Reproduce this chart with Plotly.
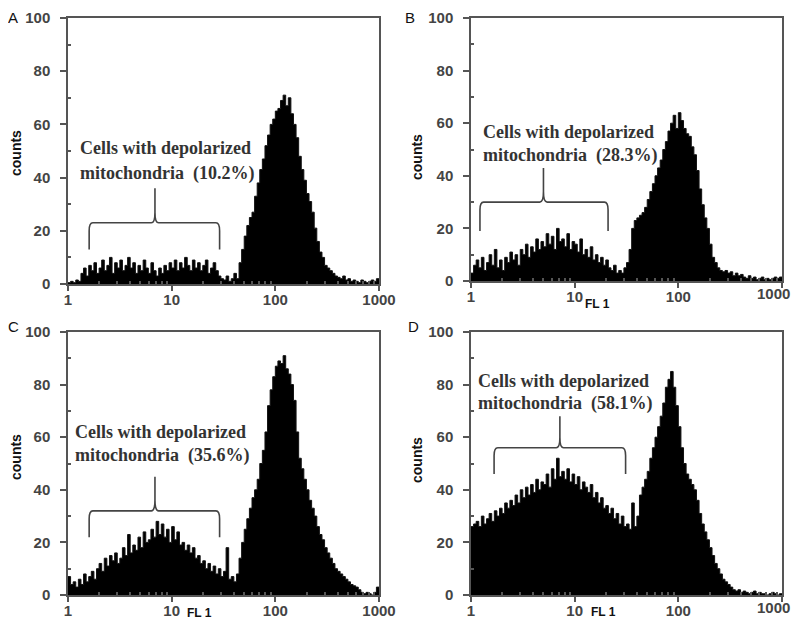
import numpy as np
import plotly.graph_objects as go

# FL1 channel edges (log scale, 1 .. 1000), 40 channels per decade
fl1_edges = np.logspace(0, 3, 121)

counts_A = [0.5, 1, 0.5, 1.5, 1,
            4, 6, 3, 7, 5, 8, 4,
            6, 9, 5, 7, 10, 4, 8, 6,
            9, 5, 7, 10, 6, 8, 4, 7,
            5, 9, 6, 4, 8, 5, 3, 6,
            4, 7, 5, 8, 6, 9, 5, 8,
            6, 10, 7, 5, 9, 6, 8, 5,
            7, 9, 4, 6, 8, 5, 3, 2,
            1.5, 3, 1, 2, 4, 2,
            8, 13, 18, 22, 25, 27, 33, 38,
            43, 47, 52, 56, 60, 62, 65, 66,
            69, 71, 67, 70, 64, 60, 55, 48,
            43, 39, 34, 31, 27, 21, 16, 12,
            10, 7, 6, 5, 4, 3, 2.5, 2,
            3, 1.5, 2, 1, 1.5, 1, 0.5, 1.5,
            1, 0.5, 1, 1.5, 1, 2]

counts_B = [3, 6, 8, 5, 9,
            4, 7, 10, 6, 12, 5, 8,
            4, 9, 7, 11, 8, 10, 6, 12,
            10, 14, 9, 13, 11, 16, 12, 15,
            13, 18, 14, 17, 12, 20, 15, 16,
            13, 18, 12, 15, 14, 11, 16, 10,
            12, 9, 13, 8, 10, 7, 9, 6,
            8, 5, 4, 6, 3, 4, 3, 5,
            7, 12, 20, 23, 24, 25,
            26, 28, 31, 34, 37, 40, 43, 46,
            50, 53, 57, 60, 63, 58, 64, 61,
            58, 56, 55, 51, 48, 42, 35, 29,
            24, 20, 14, 9, 7, 5, 4, 3.5,
            4, 3, 3.5, 2, 3, 2, 2.5, 1.5,
            1, 2, 1, 1.5, 0.5, 1, 1.5, 0.5,
            1, 0.5, 1, 1.5, 1, 1.5]

counts_C = [7, 4, 5, 3, 6,
            4, 8, 5, 7, 9, 6, 10,
            12, 9, 14, 11, 15, 13, 16, 12,
            14, 18, 15, 23, 16, 19, 17, 22,
            18, 24, 20, 21, 25, 22, 28, 23,
            27, 22, 25, 20, 26, 21, 24, 19,
            20, 17, 19, 16, 18, 14, 15, 12,
            13, 10, 12, 9, 11, 8, 10, 7,
            9, 18, 6, 7, 5, 8,
            14, 20, 25, 29, 33, 37, 40, 44,
            50, 55, 62, 72, 78, 83, 87, 89,
            88, 91, 86, 84, 80, 74, 62, 52,
            48, 44, 40, 36, 33, 30, 26, 23,
            21, 18, 16, 14, 12, 10, 9, 8,
            7, 6, 5, 4, 3.5, 3, 2, 1,
            0.5, 1, 0.5, 0, 1, 3]

counts_D = [26, 27,
            28, 26, 30, 27, 29, 31, 28, 32, 30, 33,
            31, 35, 33, 36, 34, 38, 35, 40,
            37, 41, 38, 42, 39, 44, 40, 43,
            42, 46, 41, 48, 44, 52, 45, 47,
            44, 48, 43, 46, 42, 45, 40, 43,
            41, 39, 42, 37, 39, 35, 37, 33,
            34, 31, 33, 29, 31, 27, 30, 26,
            27, 25, 35, 26, 30, 38,
            41, 44, 47, 52, 56, 60, 64, 68,
            73, 79, 82, 85, 79, 72, 64, 56,
            50, 46, 44, 42, 40, 36, 31, 27,
            24, 21, 18, 15, 12, 10, 8, 6,
            5, 4, 3, 2, 1.5, 2, 1, 1.5,
            1, 0.5, 1, 1.5, 0.5, 1, 0.5, 0.5,
            0, 0.5, 1, 0.5, 0, 0.5]

panel_letters = ["A", "B", "C", "D"]
percentages = ["10.2%", "28.3%", "35.6%", "58.1%"]
x_tick_vals = [1, 10, 100, 1000]
x_tick_text = ["1", "10", "100", "1000"]
y_tick_vals = [0, 20, 40, 60, 80, 100]
y_tick_text = ["0", "20", "40", "60", "80", "100"]

all_counts = [counts_A, counts_B, counts_C, counts_D]

# the page body has a default 8px margin; figure sized to fit inside the window
OFF = 8
W, H = 800 - 2 * OFF, 631 - 2 * OFF
# panel pixel boxes in window coords: (left, right, top, bottom)
boxes = [(68, 379, 18, 284), (471, 782, 18, 281),
         (68, 379, 332, 595), (471, 782, 332, 595)]

# brace geometry (data coords): x_left, x_right, x_center, y_end, y_level, y_tip
braces = [(1.6, 29, 6.9, 13, 23, 36),
          (1.22, 21, 5.0, 19, 30, 43),
          (1.6, 29, 6.9, 22, 32, 45),
          (1.67, 31, 7.2, 46, 56, 68)]
# annotation text positions (window pixels): x_left, y_line1, y_line2
text_pos = [(78, 148, 173), (481, 132, 155), (73, 432, 455), (476, 381, 403)]
counts_label_pos = [(16, 153), (417, 157), (16, 457), (417, 460)]
fl1_label_pos = [None, (597, 304), (199, 613), (603, 612)]
letter_pos = [(13, 18), (410, 18), (13, 326), (413, 326)]
right_panels = [False, True, False, True]

fig = go.Figure()
tickfont = dict(family="Arial, Liberation Sans", size=15, color="#444", weight="bold")
minor_x = [v * m for m in (1, 10, 100) for v in range(2, 10)]

def px(x):
    return (x - OFF) / W

def py(y):
    return 1 - (y - OFF) / H

layout = dict(width=W, height=H, margin=dict(l=0, r=0, t=0, b=0, autoexpand=False),
              plot_bgcolor="white", paper_bgcolor="white", showlegend=False)
annotations = []
shapes = []

for k, cts in enumerate(all_counts):
    xs = "x" if k == 0 else f"x{k+1}"
    ys = "y" if k == 0 else f"y{k+1}"
    xn = "xaxis" if k == 0 else f"xaxis{k+1}"
    yn = "yaxis" if k == 0 else f"yaxis{k+1}"
    l, r, t, b = boxes[k]
    xvals = list(fl1_edges)
    yvals = list(cts) + [cts[-1]]
    fig.add_trace(go.Scatter(x=xvals, y=yvals, mode="lines", line_shape="hv",
                             line=dict(color="#111", width=1), fill="tozeroy",
                             fillcolor="black", xaxis=xs, yaxis=ys, hoverinfo="skip"))
    ttext = list(x_tick_text)
    if right_panels[k]:
        # last label would run past the window edge; drawn as an annotation instead
        ttext[-1] = ""
    layout[xn] = dict(domain=[px(l), px(r)], anchor=ys, type="log", range=[0, 3],
                      automargin=False,
                      showline=True, mirror=True, linecolor="#555", linewidth=1.5,
                      ticks="outside", ticklen=5, tickcolor="#555", tickwidth=1.5,
                      tickvals=x_tick_vals, ticktext=ttext, tickfont=tickfont,
                      showgrid=False, zeroline=False, ticklabelstandoff=-4,
                      minor=dict(ticks="inside", ticklen=3, tickcolor="#555",
                                 tickvals=minor_x, showgrid=False))
    layout[yn] = dict(domain=[py(b), py(t)], anchor=xs, range=[0, 100],
                      automargin=False,
                      showline=True, mirror=True, linecolor="#555", linewidth=1.5,
                      ticks="outside", ticklen=6, tickcolor="#555", tickwidth=1.5,
                      tickvals=y_tick_vals, ticktext=y_tick_text, tickfont=tickfont,
                      showgrid=False, zeroline=False, ticklabelstandoff=7,
                      minor=dict(ticks="inside", ticklen=3, tickcolor="#555",
                                 tickvals=[10, 30, 50, 70, 90], showgrid=False))
    if right_panels[k]:
        annotations.append(dict(text=x_tick_text[-1], x=1.0, y=0, xref="paper",
                                yref=f"{ys} domain", xanchor="right", yanchor="top",
                                yshift=-2, showarrow=False, font=tickfont))
    # brace
    x0, x1, xc, ye, yl, yt = braces[k]
    rr = 10 ** 0.035
    path = (f"M {x0},{ye} L {x0},{yl-3} Q {x0},{yl} {x0*rr},{yl} "
            f"L {xc/rr},{yl} Q {xc},{yl} {xc},{yl+4} L {xc},{yt} "
            f"M {xc},{yl+4} Q {xc},{yl} {xc*rr},{yl} "
            f"L {x1/rr},{yl} Q {x1},{yl} {x1},{yl-3} L {x1},{ye}")
    shapes.append(dict(type="path", path=path, xref=xs, yref=ys,
                       line=dict(color="#444", width=1.6)))
    # texts
    tx, ty1, ty2 = text_pos[k]
    sfont = dict(family="Liberation Serif, Times New Roman, serif", size=18,
                 color="#333", weight="bold")
    annotations.append(dict(text="Cells with depolarized", x=px(tx), y=py(ty1),
                            xref="paper", yref="paper", xanchor="left", yanchor="middle",
                            showarrow=False, font=sfont))
    annotations.append(dict(text=f"mitochondria\u00a0\u00a0({percentages[k]})", x=px(tx), y=py(ty2),
                            xref="paper", yref="paper", xanchor="left", yanchor="middle",
                            showarrow=False, font=sfont))
    cx, cy = counts_label_pos[k]
    annotations.append(dict(text="counts", x=px(cx), y=py(cy), xref="paper", yref="paper",
                            textangle=-90, showarrow=False, xanchor="center", yanchor="middle",
                            font=dict(family="Arial, Liberation Sans", size=14, color="#111",
                                      weight="bold")))
    if fl1_label_pos[k] is not None:
        fx, fy = fl1_label_pos[k]
        annotations.append(dict(text="FL 1", x=px(fx), y=py(fy), xref="paper", yref="paper",
                                showarrow=False, xanchor="center", yanchor="middle",
                                font=dict(family="Arial, Liberation Sans", size=12,
                                          color="#111", weight="bold")))
    lx, ly = letter_pos[k]
    annotations.append(dict(text=panel_letters[k], x=px(lx), y=py(ly), xref="paper",
                            yref="paper", showarrow=False, xanchor="center", yanchor="middle",
                            font=dict(family="Arial, Liberation Sans", size=15, color="#111")))

layout["annotations"] = annotations
layout["shapes"] = shapes
fig.update_layout(**layout)
fig.write_html("out.html")
